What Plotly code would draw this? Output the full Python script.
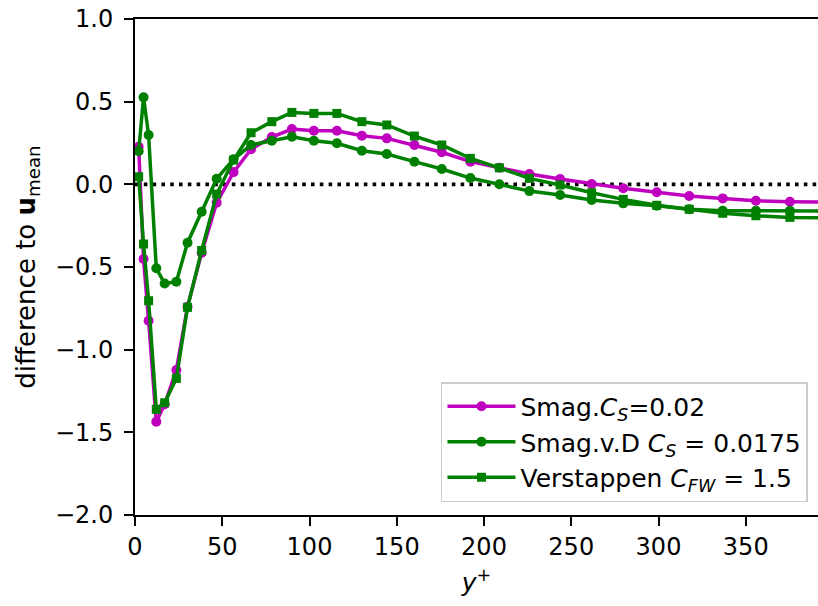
import plotly.graph_objects as go

# y+ positions (shared grid)
yplus = [2.1, 4.9, 7.8, 12.2, 17.0, 23.7, 30.1, 38.2, 46.8, 56.5, 66.5, 78.4, 89.9,
         102.5, 115.7, 130.0, 144.3, 160.1, 175.8, 192.2, 208.8, 226.0, 243.6,
         261.7, 279.8, 299.0, 317.6, 336.8, 355.8, 375.3, 395.0]

smag = [0.227, -0.452, -0.825, -1.436, -1.33, -1.123, -0.74, -0.414, -0.111, 0.074,
        0.212, 0.286, 0.334, 0.324, 0.324, 0.294, 0.278, 0.238, 0.194, 0.137, 0.100,
        0.062, 0.032, 0.002, -0.024, -0.048, -0.071, -0.085, -0.099, -0.105, -0.107]

smag_vd = [0.20, 0.526, 0.298, -0.508, -0.600, -0.589, -0.353, -0.166, 0.034, 0.151,
           0.238, 0.264, 0.288, 0.264, 0.248, 0.203, 0.183, 0.137, 0.093, 0.038, 0.000,
           -0.041, -0.065, -0.095, -0.115, -0.130, -0.150, -0.160, -0.160, -0.160, -0.161]

verstappen = [0.046, -0.361, -0.704, -1.361, -1.321, -1.174, -0.744, -0.400, -0.059, 0.147,
              0.312, 0.379, 0.435, 0.429, 0.429, 0.379, 0.359, 0.292, 0.238, 0.157, 0.100,
              0.036, -0.004, -0.051, -0.091, -0.127, -0.151, -0.175, -0.190, -0.200, -0.203]

xticks = [0, 50, 100, 150, 200, 250, 300, 350]

labels = ["Smag.<i>C</i><sub><i>S</i></sub>=0.02",
          "Smag.v.D <i>C</i><sub><i>S</i></sub> = 0.0175",
          "Verstappen <i>C</i><sub><i>FW</i></sub> = 1.5"]

MAGENTA = "#bf00bf"
GREEN = "#008000"
LW = 3.5
MS = 10

fig = go.Figure()
fig.add_trace(go.Scatter(x=yplus, y=smag, mode="lines+markers", name=labels[0],
                         line=dict(color=MAGENTA, width=LW),
                         marker=dict(symbol="circle", size=MS, color=MAGENTA)))
fig.add_trace(go.Scatter(x=yplus, y=smag_vd, mode="lines+markers", name=labels[1],
                         line=dict(color=GREEN, width=LW),
                         marker=dict(symbol="circle", size=MS, color=GREEN)))
fig.add_trace(go.Scatter(x=yplus, y=verstappen, mode="lines+markers", name=labels[2],
                         line=dict(color=GREEN, width=LW),
                         marker=dict(symbol="square", size=MS - 1, color=GREEN)))

fig.add_shape(type="line", xref="paper", yref="y", x0=0, x1=1, y0=0, y1=0,
              line=dict(color="black", width=3.6, dash="3.6px,5.2px"), layer="below")

FONT = "DejaVu Sans"
FS = 25
TFS = 24
fig.update_layout(
    width=818, height=606,
    margin=dict(l=135, r=0, t=19, b=91, pad=0),
    paper_bgcolor="white", plot_bgcolor="white",
    font=dict(family=FONT, size=FS, color="black"),
    showlegend=True,
    legend=dict(x=0.448, y=0.268, xanchor="left", yanchor="top",
                bgcolor="rgba(255,255,255,0.8)", bordercolor="#cccccc", borderwidth=1.5,
                font=dict(family=FONT, size=FS), tracegroupgap=0, itemwidth=68),
    xaxis=dict(range=[0, 391.4], tickmode="array", tickvals=xticks,
               showgrid=False, zeroline=False, showline=True, linecolor="black",
               linewidth=2, mirror=True, ticks="outside", ticklen=9, tickwidth=2,
               tickcolor="black", tickfont=dict(size=TFS), automargin=False,
               title=dict(text="<i>y</i><sup>+</sup>", font=dict(size=FS), standoff=14)),
    yaxis=dict(range=[-2, 1], dtick=0.5, tick0=0, tickformat=".1f",
               showgrid=False, zeroline=False, showline=True, linecolor="black",
               linewidth=2, mirror=False, ticks="outside", ticklen=9, tickwidth=2,
               tickcolor="black", tickfont=dict(size=TFS), automargin=False,
               ticklabelstandoff=6,
               title=dict(text="difference to <b>u</b><sub>mean</sub>",
                          font=dict(size=26), standoff=12)),
)

fig.write_html("out.html", config={"displayModeBar": False},
               post_script="document.body.style.margin='0';"
                           "document.body.style.overflow='hidden';")
